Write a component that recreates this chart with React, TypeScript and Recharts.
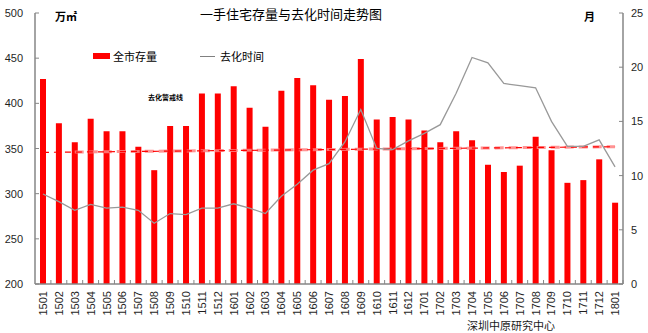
import React from 'react';
import { ComposedChart, Bar, Line, XAxis, YAxis } from 'recharts';

const months = [
  '1501', '1502', '1503', '1504', '1505', '1506', '1507', '1508', '1509', '1510', '1511', '1512',
  '1601', '1602', '1603', '1604', '1605', '1606', '1607', '1608', '1609', '1610', '1611', '1612',
  '1701', '1702', '1703', '1704', '1705', '1706', '1707', '1708', '1709', '1710', '1711', '1712',
  '1801'
];

// 全市存量 (万㎡)
const stock = [
  427, 378, 357, 383, 369, 369, 352, 326, 375, 375, 411, 411,
  419, 395, 374, 414, 428, 420, 404, 408, 449, 382, 385, 382,
  370, 357, 369, 359, 332, 324, 331, 363, 348, 312, 315, 338,
  290
];

// 去化时间 (月)
const sellTime = [
  8.3, 7.6, 6.8, 7.35, 7.0, 7.1, 6.8, 5.6, 6.5, 6.4, 7.0, 7.0,
  7.4, 7.0, 6.5, 8.1, 9.2, 10.5, 11.1, 13.1, 16.1, 12.5, 12.4, 13.2,
  13.9, 14.7, 17.6, 20.9, 20.4, 18.5, 18.3, 18.1, 15.0, 12.7, 12.7, 13.3,
  10.8
];

// 去化警戒线 end points (left axis)
const warnStart = { month: '1501', value: 345.7 };
const warnEnd = { month: '1801', value: 352.0 };
const shadeStart = { month: '1503', value: 346.1 };

const leftTicks = [200, 250, 300, 350, 400, 450, 500];
const rightTicks = [0, 5, 10, 15, 20, 25];

const data = months.map((m, i) => ({
  month: m,
  stock: stock[i],
  sellTime: sellTime[i],
  warn: m === warnStart.month ? warnStart.value : m === warnEnd.month ? warnEnd.value : null,
  shade: m === shadeStart.month ? shadeStart.value : m === warnEnd.month ? warnEnd.value : null,
}));

const axisColor = '#868686';
const labelColor = '#1f1f1f';
const numFont = '"Liberation Sans", Arial, sans-serif';
const cjkFont = '"Noto Sans CJK SC", "Noto Sans", sans-serif';

const LeftTick = ({ x, y, payload }: any) => (
  <g>
    <line x1={x + 9} x2={x + 13} y1={y} y2={y} stroke={axisColor} />
    <text x={x - 3} y={y} dy={4} textAnchor="end" fontSize={11} fontFamily={numFont} fill={labelColor}>
      {payload.value}
    </text>
  </g>
);

const RightTick = ({ x, y, payload }: any) => (
  <g>
    <line x1={x - 12} x2={x - 8} y1={y} y2={y} stroke={axisColor} />
    <text x={x} y={y} dy={4} textAnchor="start" fontSize={11} fontFamily={numFont} fill={labelColor}>
      {payload.value}
    </text>
  </g>
);

const MonthTick = ({ x, y, payload }: any) => (
  <g>
    <line x1={x + 7.95} x2={x + 7.95} y1={y - 7} y2={y - 11} stroke={axisColor} />
    <text
      x={x + 4}
      y={y}
      transform={`rotate(-90, ${x + 4}, ${y})`}
      textAnchor="end"
      fontSize={11}
      fontFamily={numFont}
      fill={labelColor}
    >
      {payload.value}
    </text>
  </g>
);

const App: React.FC = () => {
  return (
    <div style={{ position: 'relative', width: 648, height: 333, background: '#fff', fontFamily: cjkFont }}>
      <style>{'body{margin:0}'}</style>
      <ComposedChart width={648} height={333} data={data} margin={{ top: 13, right: 0, left: 0, bottom: 0 }}>
        <XAxis
          dataKey="month"
          interval={0}
          height={49}
          tickSize={0}
          tickMargin={7}
          tick={<MonthTick />}
          axisLine={{ stroke: axisColor, strokeWidth: 1.5 }}
          tickLine={false}
        />
        <YAxis
          yAxisId="left"
          domain={[200, 500]}
          ticks={leftTicks}
          width={35}
          tickSize={0}
          tickMargin={9}
          tick={<LeftTick />}
          axisLine={{ stroke: axisColor, strokeWidth: 1.5 }}
          tickLine={false}
          allowDataOverflow
        />
        <YAxis
          yAxisId="right"
          orientation="right"
          domain={[0, 25]}
          ticks={rightTicks}
          width={25}
          tickSize={0}
          tickMargin={8}
          tick={<RightTick />}
          axisLine={{ stroke: axisColor, strokeWidth: 1.5 }}
          tickLine={false}
        />
        <Bar yAxisId="left" dataKey="stock" fill="#ff0000" barSize={6} isAnimationActive={false} />
        <Line
          yAxisId="left"
          dataKey="shade"
          stroke="#ff8080"
          strokeOpacity={0.85}
          strokeWidth={3}
          strokeDasharray="9 5"
          dot={false}
          connectNulls
          isAnimationActive={false}
        />
        <Line
          yAxisId="left"
          dataKey="warn"
          stroke="#ff0000"
          strokeWidth={1.2}
          strokeDasharray="6 5"
          dot={false}
          connectNulls
          isAnimationActive={false}
        />
        <Line
          yAxisId="right"
          dataKey="sellTime"
          type="linear"
          stroke="#999999"
          strokeWidth={1.3}
          dot={false}
          isAnimationActive={false}
        />
      </ComposedChart>

      <div style={{ position: 'absolute', left: 200, top: 6, fontSize: 13, lineHeight: '16px', color: '#000', whiteSpace: 'nowrap' }}>
        一手住宅存量与去化时间走势图
      </div>
      <div style={{ position: 'absolute', left: 55, top: 9, fontSize: 11, lineHeight: '14px', fontWeight: 'bold', color: '#000' }}>
        万㎡
      </div>
      <div style={{ position: 'absolute', left: 584, top: 9, fontSize: 11, lineHeight: '14px', fontWeight: 'bold', color: '#000' }}>
        月
      </div>

      <div style={{ position: 'absolute', left: 93, top: 53, width: 17, height: 6, background: '#ff0000' }} />
      <div style={{ position: 'absolute', left: 113, top: 49, fontSize: 11, lineHeight: '14px', color: '#000' }}>全市存量</div>
      <div style={{ position: 'absolute', left: 200, top: 56, width: 15, height: 1, background: '#808080' }} />
      <div style={{ position: 'absolute', left: 220, top: 49, fontSize: 11, lineHeight: '14px', color: '#000' }}>去化时间</div>

      <div style={{ position: 'absolute', left: 148, top: 92, fontSize: 7, lineHeight: '10px', fontWeight: 'bold', color: '#000', whiteSpace: 'nowrap' }}>
        去化警戒线
      </div>

      <div style={{ position: 'absolute', left: 467, top: 318, fontSize: 11, lineHeight: '14px', color: '#1a1a1a', whiteSpace: 'nowrap' }}>
        深圳中原研究中心
      </div>
    </div>
  );
};

export default App;
